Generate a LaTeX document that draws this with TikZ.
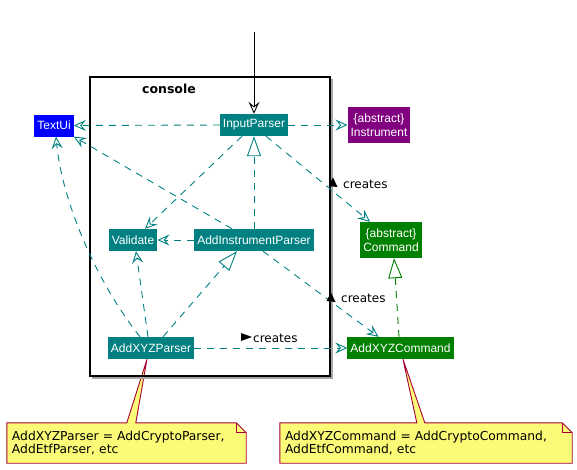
\documentclass[tikz,border=0pt]{standalone}
\usepackage{fontspec}
\setmainfont{Liberation Sans}
\newfontfamily\notefont{DejaVu Sans}
\usetikzlibrary{arrows.meta,backgrounds}

\definecolor{clsteal}{HTML}{008080}
\definecolor{clsblue}{HTML}{0000FF}
\definecolor{clspurple}{HTML}{800080}
\definecolor{clsgreen}{HTML}{008000}
\definecolor{notefill}{HTML}{FBFB77}
\definecolor{noteline}{HTML}{A80036}

\tikzset{
  cls/.style={fill=clsteal, text=white, inner xsep=3pt, inner ysep=0pt,
    minimum height=22pt, font=\fontsize{12}{14}\selectfont},
  absbox/.style={cls, align=center, minimum height=36pt},
  dep/.style={clsteal, line width=0.9pt, dash pattern=on 7pt off 6pt,
    -{Stealth[open, length=12pt, width=11pt, inset=4.5pt]}},
  impl/.style={line width=0.9pt, dash pattern=on 7pt off 6pt,
    -{Triangle[length=20pt, width=14pt, fill=white]}},
  notebox/.style={draw=noteline, fill=notefill, line width=0.9pt},
  notetext/.style={minimum width=239pt, minimum height=40pt, inner xsep=5pt,
    text width=229pt, align=left, font=\notefont\fontsize{12.3}{13.5}\selectfont},
  creates/.style={anchor=west, inner sep=0pt, font=\notefont\fontsize{12}{13}\selectfont}
}

\begin{document}
\begin{tikzpicture}[x=1pt,y=-1pt]

\useasboundingbox (0,0) rectangle (577,469);

\draw[black!35, line width=1.5pt] (332,79) -- (332,378) -- (92,378); % Schatten
\draw[line width=1.3pt] (90,77) rectangle (330,376);                 % Paket
\node[font=\notefont\bfseries\fontsize{12.5}{14}\selectfont] (console) at (169,89) {console};

\node[cls, fill=clsblue] (textui) at (54,125.5) {TextUi};
\node[cls] (inputp) at (254,125) {InputParser};
\node[absbox, fill=clspurple] (instr) at (379,125) {\{abstract\}\\Instrument};
\node[absbox, fill=clsgreen] (cmd) at (391,240) {\{abstract\}\\Command};
\node[cls] (validate) at (133,240) {Validate};
\node[cls] (addinstp) at (254,240) {AddInstrumentParser};
\node[cls] (xyzp) at (151,348) {AddXYZParser};
\node[cls, fill=clsgreen] (xyzcmd) at (400.5,348) {AddXYZCommand};

\coordinate (entry) at (254,32);
\draw[line width=0.9pt, -{Stealth[open, length=12pt, width=11pt, inset=4.5pt]}] (entry) -- (inputp.north);

\draw[dep] (inputp.west) -- (textui.east);
\draw[dep] (inputp.east) -- (instr.west);
\draw[dep] ([xshift=-12]inputp.south) -- ([xshift=12]validate.north);
\draw[dep] ([xshift=12]inputp.south) -- ([xshift=-21]cmd.north);
\draw[impl, clsteal] (addinstp.north) -- (inputp.south);
\draw[dep] ([xshift=-22]addinstp.north) -- (textui.south east);
\draw[dep] (addinstp.west) -- (validate.east);
\draw[dep] ([xshift=9]addinstp.south) -- ([xshift=-22]xyzcmd.north);
\draw[dep] ([xshift=-11]xyzp.north) .. controls (95,280) and (62,200) .. ([xshift=2]textui.south);
\draw[dep] ([xshift=-3]xyzp.north) -- ([xshift=3]validate.south);
\draw[impl, clsteal] ([xshift=12]xyzp.north) -- ([xshift=-17]addinstp.south);
\draw[dep] (xyzp.east) -- (xyzcmd.west);
\draw[impl, clsgreen] ([xshift=-1.5]xyzcmd.north) -- ([xshift=3]cmd.south);

% creates
\node[creates] (crA) at (343,184) {creates};
\node[creates] (crB) at (341,298) {creates};
\node[creates] (crC) at (253,338) {creates};
\fill (328.5,186) -- (333,177.5) -- (337.5,187) -- cycle;
\fill (326.5,301) -- (331,292.5) -- (335.5,302) -- cycle;
\fill (241,333) -- (252,337) -- (241,341) -- cycle;

% Notizen
\node[notetext] (notexyzp) at (126.5,443) {AddXYZParser = AddCryptoParser,\\AddEtfParser, etc};
\node[notetext, minimum width=292pt, text width=282pt] (notexyzc) at (426,443) {AddXYZCommand = AddCryptoCommand,\\AddEtfCommand, etc};

\begin{scope}[on background layer]
\draw[notebox] (notexyzp.north west) -- ([xshift=120]notexyzp.north west) -- ([xshift=-4]xyzp.south)
  -- ([xshift=129]notexyzp.north west) -- ([xshift=-10]notexyzp.north east)
  -- ([yshift=-10]notexyzp.north east) -- (notexyzp.south east) -- (notexyzp.south west) -- cycle;
\draw[notebox] (notexyzc.north west) -- ([xshift=137]notexyzc.north west) -- ([xshift=2.5]xyzcmd.south)
  -- ([xshift=145]notexyzc.north west) -- ([xshift=-10]notexyzc.north east)
  -- ([yshift=-10]notexyzc.north east) -- (notexyzc.south east) -- (notexyzc.south west) -- cycle;
\end{scope}
\draw[noteline, line width=0.9pt] ([xshift=-10]notexyzp.north east) -- ([xshift=-10,yshift=-10]notexyzp.north east) -- ([yshift=-10]notexyzp.north east);
\draw[noteline, line width=0.9pt] ([xshift=-10]notexyzc.north east) -- ([xshift=-10,yshift=-10]notexyzc.north east) -- ([yshift=-10]notexyzc.north east);

\end{tikzpicture}
\end{document}
